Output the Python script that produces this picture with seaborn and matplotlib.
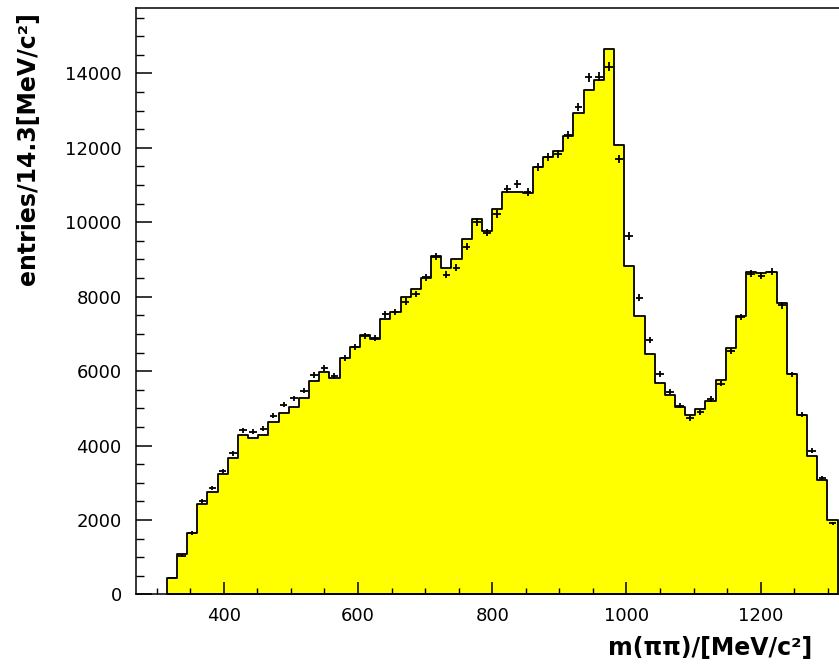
import numpy as np
import pandas as pd
import matplotlib
matplotlib.use("Agg")
import matplotlib.pyplot as plt
import seaborn as sns
from matplotlib.ticker import MultipleLocator

# m(pipi) spectrum: fitted histogram (yellow) and measured points (crosses)
first_edge = 314.9
bin_width = 15.15

fit_counts = [449, 1077, 1658, 2420, 2760, 3244, 3674, 4274, 4211, 4274,
              4623, 4873, 5035, 5277, 5725, 5984, 5814, 6351, 6655, 6978,
              6870, 7399, 7579, 8005, 8215, 8492, 9092, 8778, 9003, 9549,
              10095, 9755, 10346, 10820, 10820, 10776, 11492, 11743, 11904, 12316,
              12925, 13552, 13820, 14650, 12080, 8835, 7475, 6460, 5686, 5346,
              5037, 4831, 4985, 5202, 5758, 6633, 7488, 8672, 8641, 8672,
              7828, 5923, 4821, 3729, 3080, 2009]

data_counts = [440, 1040, 1650, 2501, 2858, 3324, 3790, 4408, 4372, 4453,
               4803, 5098, 5269, 5474, 5887, 6083, 5877, 6342, 6655, 6951,
               6880, 7526, 7588, 7865, 8071, 8520, 9073, 8590, 8778, 9342,
               10006, 9718, 10229, 10900, 11026, 10820, 11475, 11743, 11832, 12343,
               13103, 13893, 13911, 14175, 11712, 9628, 7977, 6837, 5923, 5449,
               5068, 4738, 4893, 5253, 5665, 6530, 7457, 8621, 8569, 8672,
               7766, 5912, 4831, 3863, 3132, 1906]

n_bins = len(fit_counts)
edges = first_edge + bin_width * np.arange(n_bins + 1)
centers = 0.5 * (edges[:-1] + edges[1:])
df = pd.DataFrame({"mass": centers, "fit": fit_counts, "data": data_counts})

plt.rcParams['font.family'] = ['DejaVu Sans']

W, H = 839, 667
fig = plt.figure(figsize=(W / 100, H / 100), dpi=100)
ax = fig.add_axes([135.7 / W, (H - 594.4) / H, 1 - 135.7 / W, (594.4 - 8.3) / H])

sns.histplot(data=df, x="mass", weights="fit", bins=list(edges), element="step",
             fill=True, color="#ffff00", alpha=1, edgecolor="black", linewidth=1.3, ax=ax)

ax.errorbar(df["mass"], df["data"], yerr=np.sqrt(df["data"]), xerr=0.37 * bin_width,
            fmt='none', ecolor='black', elinewidth=1.3, capsize=0)

ax.set_xlim(268.7, 1316.8)
ax.set_ylim(0, 15750)

ax.xaxis.set_major_locator(MultipleLocator(200))
ax.xaxis.set_minor_locator(MultipleLocator(50))
ax.yaxis.set_major_locator(MultipleLocator(2000))
ax.yaxis.set_minor_locator(MultipleLocator(500))

ax.tick_params(axis='y', which='major', direction='in', length=11.5, width=1.1,
               labelsize=13, pad=10)
ax.tick_params(axis='y', which='minor', direction='in', length=5.8, width=1.0)
ax.tick_params(axis='x', which='major', direction='in', length=8.6, width=1.1,
               labelsize=13, pad=9)
ax.tick_params(axis='x', which='minor', direction='in', length=4.3, width=1.0)

for side in ['left', 'bottom', 'top']:
    ax.spines[side].set_linewidth(1.1)
ax.spines['right'].set_visible(False)

ax.set_xlabel("")
ax.set_ylabel("")
fig.text(812 / W, 1 - 648 / H, "m(ππ)/[MeV/c²]", ha='right', va='center',
         fontsize=17, fontweight='bold')
fig.text(28 / W, 1 - 12 / H, "entries/14.3[MeV/c²]", ha='center', va='top',
         rotation=90, fontsize=17, fontweight='bold')

fig.savefig("out.png", dpi=100)
